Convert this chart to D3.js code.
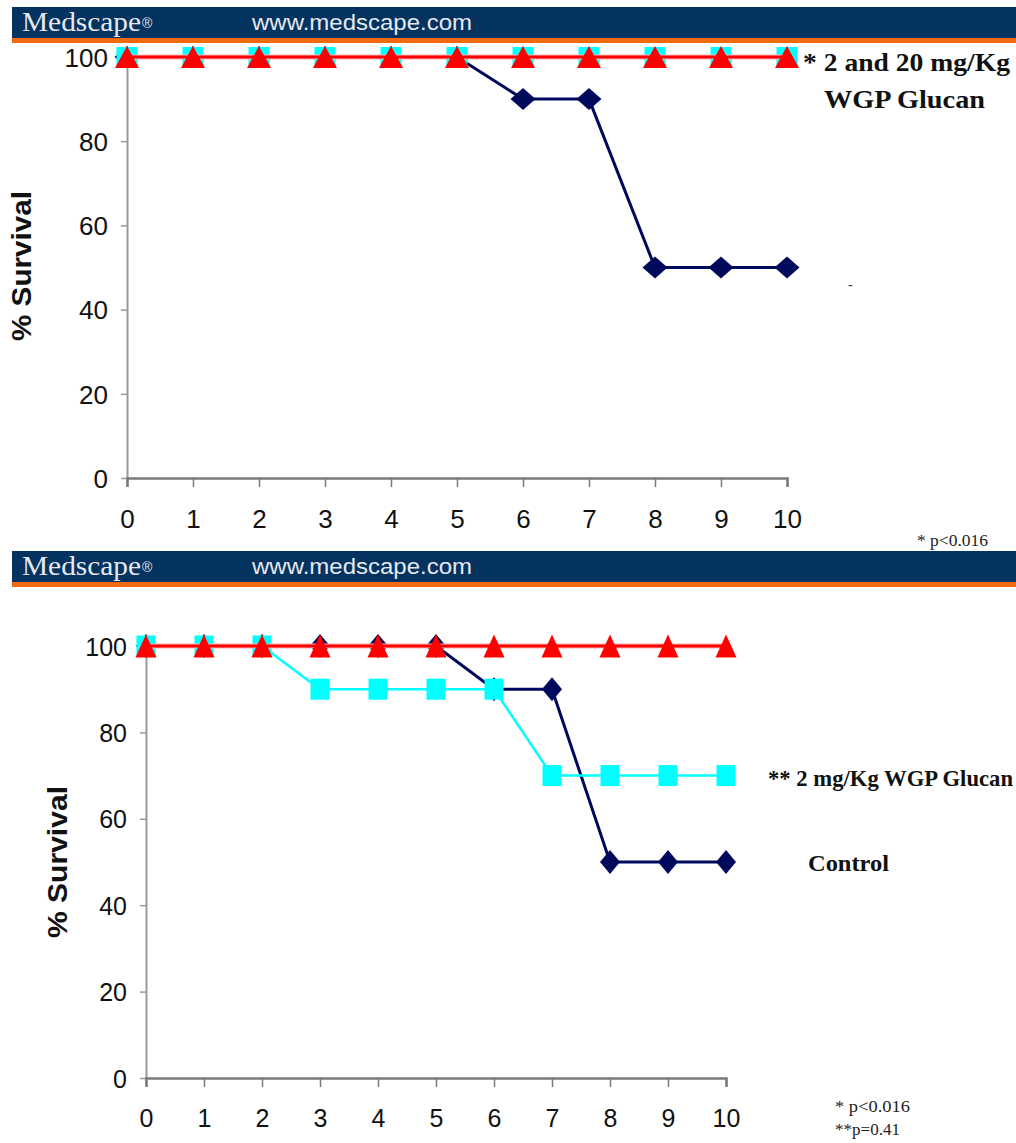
<!DOCTYPE html>
<html>
<head>
<meta charset="utf-8">
<script src="https://cdn.jsdelivr.net/npm/d3@7"></script>
<style>
  html, body { margin: 0; padding: 0; background: #fff; }
  svg { display: block; }
</style>
</head>
<body>
<svg id="chart" width="1016" height="1143"></svg>
<script>
// ---------- data ----------
const days = [0, 1, 2, 3, 4, 5, 6, 7, 8, 9, 10];
const yTicks = [0, 20, 40, 60, 80, 100];

// Panel A
const controlA   = [100, 100, 100, 100, 100, 100, 90, 90, 50, 50, 50];
const glucan2A   = [100, 100, 100, 100, 100, 100, 100, 100, 100, 100, 100];
const glucan20A  = [100, 100, 100, 100, 100, 100, 100, 100, 100, 100, 100];

// Panel B
const controlB   = [100, 100, 100, 100, 100, 100, 90, 90, 50, 50, 50];
const glucan2B   = [100, 100, 100, 90, 90, 90, 90, 70, 70, 70, 70];
const glucan20B  = [100, 100, 100, 100, 100, 100, 100, 100, 100, 100, 100];

const legendA = ["* 2 and 20 mg/Kg", "WGP Glucan"];
const legendB = ["** 2 mg/Kg WGP Glucan", "Control"];
const footA = ["*  p<0.016"];
const footB = ["*  p<0.016", "**p=0.41"];

// ---------- styles ----------
const NAVY = "#000a5c";
const RED = "#ff0000";
const CYAN = "#00ffff";
const AXIS = "#9a9a9a";

const svg = d3.select("#chart");

// bbox-centred symbol types
function triType(w, h) {
  return { draw(ctx) { ctx.moveTo(0, -h / 2); ctx.lineTo(w / 2, h / 2); ctx.lineTo(-w / 2, h / 2); ctx.closePath(); } };
}
function sqType(w, h) {
  return { draw(ctx) { ctx.rect(-w / 2, -h / 2, w, h); } };
}
function diaType(w, h) {
  return { draw(ctx) { ctx.moveTo(0, -h / 2); ctx.lineTo(w / 2, 0); ctx.lineTo(0, h / 2); ctx.lineTo(-w / 2, 0); ctx.closePath(); } };
}

function header(y0) {
  const g = svg.append("g");
  g.append("rect").attr("x", 12).attr("y", y0).attr("width", 1004).attr("height", 32).attr("fill", "#04335f");
  g.append("rect").attr("x", 12).attr("y", y0 + 31).attr("width", 1004).attr("height", 5).attr("fill", "#f26a10");
  g.append("text").attr("x", 22).attr("y", y0 + 24)
    .attr("font-family", "Liberation Serif, Times New Roman, serif").attr("font-size", 27)
    .attr("fill", "#e6e9f0").attr("textLength", 119).attr("lengthAdjust", "spacingAndGlyphs")
    .text("Medscape");
  g.append("text").attr("x", 142).attr("y", y0 + 21)
    .attr("font-family", "Liberation Sans, Arial, sans-serif").attr("font-size", 14)
    .attr("fill", "#e6e9f0").text("®");
  g.append("text").attr("x", 252).attr("y", y0 + 23)
    .attr("font-family", "Liberation Sans, Arial, sans-serif").attr("font-size", 22)
    .attr("fill", "#e6e9f0").attr("textLength", 220).attr("lengthAdjust", "spacingAndGlyphs")
    .text("www.medscape.com");
}

function panel(cfg) {
  const x = d3.scaleLinear().domain([0, 10]).range([cfg.x0, cfg.x1]);
  const y = d3.scaleLinear().domain([0, 100]).range([cfg.y0, cfg.y1]);
  const g = svg.append("g");

  // y axis
  const ya = g.append("g").attr("transform", `translate(${cfg.x0},0)`)
    .call(d3.axisLeft(y).tickValues(yTicks).tickSize(6).tickSizeOuter(0).tickPadding(cfg.yPad));
  ya.select(".domain").attr("stroke", AXIS).attr("stroke-width", 2);
  ya.selectAll(".tick line").attr("stroke", AXIS).attr("stroke-width", 1.5);
  ya.selectAll(".tick text").attr("font-family", "Liberation Sans, Arial, sans-serif")
    .attr("font-size", cfg.fs).attr("fill", "#111").attr("dy", "0.36em");

  // x axis
  const xa = g.append("g").attr("transform", `translate(0,${cfg.y0})`)
    .call(d3.axisBottom(x).tickValues(days).tickSize(9).tickSizeOuter(9).tickPadding(cfg.xPad));
  xa.select(".domain").attr("stroke", "#7a7a7a").attr("stroke-width", 2.5);
  xa.selectAll(".tick line").attr("stroke", "#7a7a7a").attr("stroke-width", 1.5);
  xa.selectAll(".tick text").attr("font-family", "Liberation Sans, Arial, sans-serif")
    .attr("font-size", cfg.fs).attr("fill", "#111");

  // y title
  g.append("text")
    .attr("transform", `translate(${cfg.titleX},${cfg.titleY}) rotate(-90)`)
    .attr("text-anchor", "middle").attr("dy", "0.35em")
    .attr("font-family", "Liberation Sans, Arial, sans-serif").attr("font-weight", "bold")
    .attr("font-size", cfg.tfs).attr("fill", "#111")
    .attr("textLength", cfg.titleLen).attr("lengthAdjust", "spacingAndGlyphs")
    .text("% Survival");

  const line = d3.line().x((d, i) => x(days[i])).y(d => y(d));
  const series = [
    { vals: cfg.control, color: NAVY, w: 3, sym: diaType(cfg.dia[0], cfg.dia[1]) },
    { vals: cfg.g2, color: CYAN, w: 2.5, sym: sqType(cfg.sq[0], cfg.sq[1]) },
    { vals: cfg.g20, color: RED, w: 3, sym: triType(cfg.tri[0], cfg.tri[1]) }
  ];
  series.forEach(s => {
    if (s.color === RED) {
      g.append("path").datum(s.vals).attr("d", line).attr("fill", "none")
        .attr("stroke", "#ffb0b0").attr("stroke-width", 5);
    }
    g.append("path").datum(s.vals).attr("d", line).attr("fill", "none")
      .attr("stroke", s.color).attr("stroke-width", s.w);
    g.selectAll(null).data(s.vals).enter().append("path")
      .attr("transform", (d, i) => `translate(${x(days[i])},${y(d)})`)
      .attr("d", d3.symbol().type(s.sym))
      .attr("fill", s.color);
  });

  // legend texts
  cfg.legend.forEach(l => {
    const t = g.append("text").attr("x", l.x).attr("y", l.y)
      .attr("font-family", "Liberation Serif, Times New Roman, serif").attr("font-weight", "bold")
      .attr("font-size", l.fs).attr("fill", "#111").text(l.t);
    if (l.len) t.attr("textLength", l.len).attr("lengthAdjust", "spacingAndGlyphs");
  });
  cfg.foot.forEach(l => {
    g.append("text").attr("x", l.x).attr("y", l.y)
      .attr("font-family", "Liberation Serif, Times New Roman, serif")
      .attr("font-size", 16).attr("fill", "#222")
      .attr("textLength", l.len).attr("lengthAdjust", "spacingAndGlyphs").text(l.t);
  });
}

header(7);
panel({
  x0: 127, x1: 787, y0: 478, y1: 57, fs: 26, tfs: 27, titleX: 22, titleY: 266, titleLen: 150, yPad: 13, xPad: 23,
  control: controlA, g2: glucan2A, g20: glucan20A,
  tri: [24, 22], sq: [21, 20], dia: [25, 22],
  legend: [
    { t: legendA[0], x: 803, y: 71, fs: 25, len: 207 },
    { t: legendA[1], x: 824, y: 108, fs: 25, len: 161 }
  ],
  foot: [{ t: footA[0], x: 917, y: 546, len: 71 }]
});
svg.append("text").attr("x", 848).attr("y", 290).attr("font-family", "Liberation Sans, Arial, sans-serif")
  .attr("font-size", 14).attr("fill", "#333").text("-");

header(551);
panel({
  x0: 146, x1: 726, y0: 1078, y1: 646, fs: 25, tfs: 27, titleX: 58, titleY: 862, titleLen: 152, yPad: 13, xPad: 22,
  control: controlB, g2: glucan2B, g20: glucan20B,
  tri: [21, 23], sq: [19, 21], dia: [20, 24],
  legend: [
    { t: legendB[0], x: 768, y: 786, fs: 23, len: 245 },
    { t: legendB[1], x: 808, y: 871, fs: 24, len: 81 }
  ],
  foot: [
    { t: footB[0], x: 835, y: 1112, len: 75 },
    { t: footB[1], x: 835, y: 1135, len: 65 }
  ]
});
</script>
</body>
</html>
